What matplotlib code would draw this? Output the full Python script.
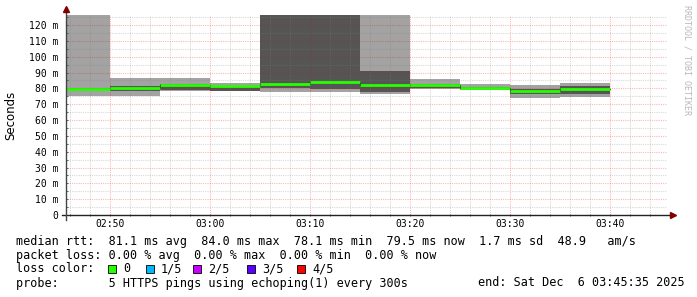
import numpy as np
import matplotlib
matplotlib.use("Agg")
import matplotlib.pyplot as plt
from matplotlib.patches import Rectangle

# step start times, minutes after midnight (02:45 ... 03:35), 5 min each
step_start = [165, 170, 175, 180, 185, 190, 195, 200, 205, 210, 215]
step_len = 5

# smoke bands (ms): sorted pings min/p2/median/p4/max
rtt_min = [75.3, 75.3, 78.5, 78.5, 77.9, 77.9, 76.6, 79.8, 79.0, 74.1, 74.6]
rtt_p2 = [79.0, 78.3, 78.8, 78.5, 80.0, 79.4, 77.9, 80.0, 79.5, 76.5, 76.3]
rtt_med = [79.6, 80.2, 82.0, 81.2, 82.6, 84.0, 82.0, 82.3, 80.4, 78.1, 79.5]
rtt_p4 = [80.5, 81.5, 82.5, 81.6, 140.0, 140.0, 90.9, 83.0, 81.0, 79.5, 81.5]
rtt_max = [140.0, 86.6, 86.6, 83.6, 140.0, 140.0, 140.0, 85.9, 82.7, 82.1, 83.4]

xtick_pos = [170, 180, 190, 200, 210, 220]
xtick_labels = ["02:50", "03:00", "03:10", "03:20", "03:30", "03:40"]
ytick_pos = [0, 10, 20, 30, 40, 50, 60, 70, 80, 90, 100, 110, 120]
ytick_labels = ["0"] + ["%d m" % v for v in ytick_pos[1:]]

legend_lines = [
    "median rtt:  81.1 ms avg  84.0 ms max  78.1 ms min  79.5 ms now  1.7 ms sd  48.9   am/s",
    "packet loss: 0.00 % avg  0.00 % max  0.00 % min  0.00 % now",
]
loss_labels = ["0", "1/5", "2/5", "3/5", "4/5"]
loss_colors = ["#26ff00", "#00b8ff", "#c800ff", "#5a00ff", "#ff0000"]
probe_text = "probe:       5 HTTPS pings using echoping(1) every 300s"
end_text = "end: Sat Dec  6 03:45:35 2025"

W, H = 697, 297
fig = plt.figure(figsize=(W / 100, H / 100), dpi=100)
fig.patch.set_facecolor("white")

# plot area in pixels: x 67..667, y 15..215
ax = fig.add_axes([67 / W, (H - 215) / H, 600 / W, 200 / H])
ax.set_xlim(165.7, 225.7)
ax.set_ylim(0, 200 / 1.5833)
for s in ax.spines.values():
    s.set_visible(False)

edges = step_start + [step_start[-1] + step_len]
ext = lambda a: list(a) + [a[-1]]
ax.fill_between(edges, ext(rtt_min), ext(rtt_max), step="post",
                color="#a3a3a3", lw=0, zorder=1)
ax.fill_between(edges, ext(rtt_p2), ext(rtt_p4), step="post",
                color="#555555", lw=0, zorder=2)

# grid (rrdtool style: translucent dotted lines on top)
for m in np.arange(166, 226, 2):
    major = m % 10 == 0
    ax.axvline(m, color="#ff0000" if major else "#808080", lw=0.8,
               ls=(0, (1, 1)), zorder=3, alpha=0.28 if major else 0.3)
for v in np.arange(5, 126, 5):
    major = v % 10 == 0
    ax.axhline(v, color="#ff0000" if major else "#808080", lw=0.8,
               ls=(0, (1, 1)), zorder=3, alpha=0.28 if major else 0.3)

# median line
ax.step(edges, ext(rtt_med), where="post", color="black", lw=0.6, zorder=4)
ax.hlines(rtt_med, step_start, edges[1:], color="#26ff00", lw=2.0, zorder=5)

# axes with arrows
ax.plot([165.2, 226.1], [0, 0], color="#222222", lw=1.0, clip_on=False, zorder=6)
ax.plot([165.6, 165.6], [-3, 129.5], color="#444444", lw=1.0, clip_on=False, zorder=6)
ax.plot([226.3], [0], marker=">", color="#800000", ms=4, clip_on=False, zorder=7)
ax.plot([165.6], [129.8], marker="^", color="#800000", ms=4, clip_on=False, zorder=7)

ax.set_xticks(xtick_pos)
ax.set_xticklabels(xtick_labels, family="DejaVu Sans Mono", fontsize=7)
ax.set_xticks(np.arange(166, 226, 2), minor=True)
ax.set_yticks(ytick_pos)
ax.set_yticklabels(ytick_labels, family="DejaVu Sans Mono", fontsize=7)
ax.set_yticks(np.arange(5, 126, 10), minor=True)
ax.tick_params(axis="both", which="both", length=2, width=0.6, color="#444444",
               direction="inout", pad=2)
ax.tick_params(axis="y", pad=5)
ax.set_facecolor("white")

ax.set_ylabel("Seconds", fontsize=8.5, labelpad=9)

def ftext(x, y, s, **kw):
    fig.text(x / W, 1 - y / H, s, **kw)

mono = dict(family="DejaVu Sans Mono", fontsize=8.5, va="center", ha="left")
ftext(16, 241, legend_lines[0], **mono)
ftext(16, 255, legend_lines[1], **mono)
ftext(16, 268.5, "loss color:", **mono)
box_x = [108, 146, 193, 247, 297]
for bx, lab, col in zip(box_x, loss_labels, loss_colors):
    fig.patches.append(Rectangle((bx / W, 1 - 272.5 / H), 8 / W, 8 / H,
                                 transform=fig.transFigure, facecolor=col,
                                 edgecolor="black", lw=0.6))
    ftext(bx + 15, 268.5, lab, **mono)
ftext(16, 283, probe_text, **mono)
ftext(478, 283, end_text, **mono)

ftext(687, 60, "RRDTOOL / TOBI OETIKER", family="DejaVu Sans Mono", fontsize=6,
      color="#b8b8b8", rotation=270, ha="center", va="center")

fig.savefig("out.png", dpi=100, facecolor="white")
